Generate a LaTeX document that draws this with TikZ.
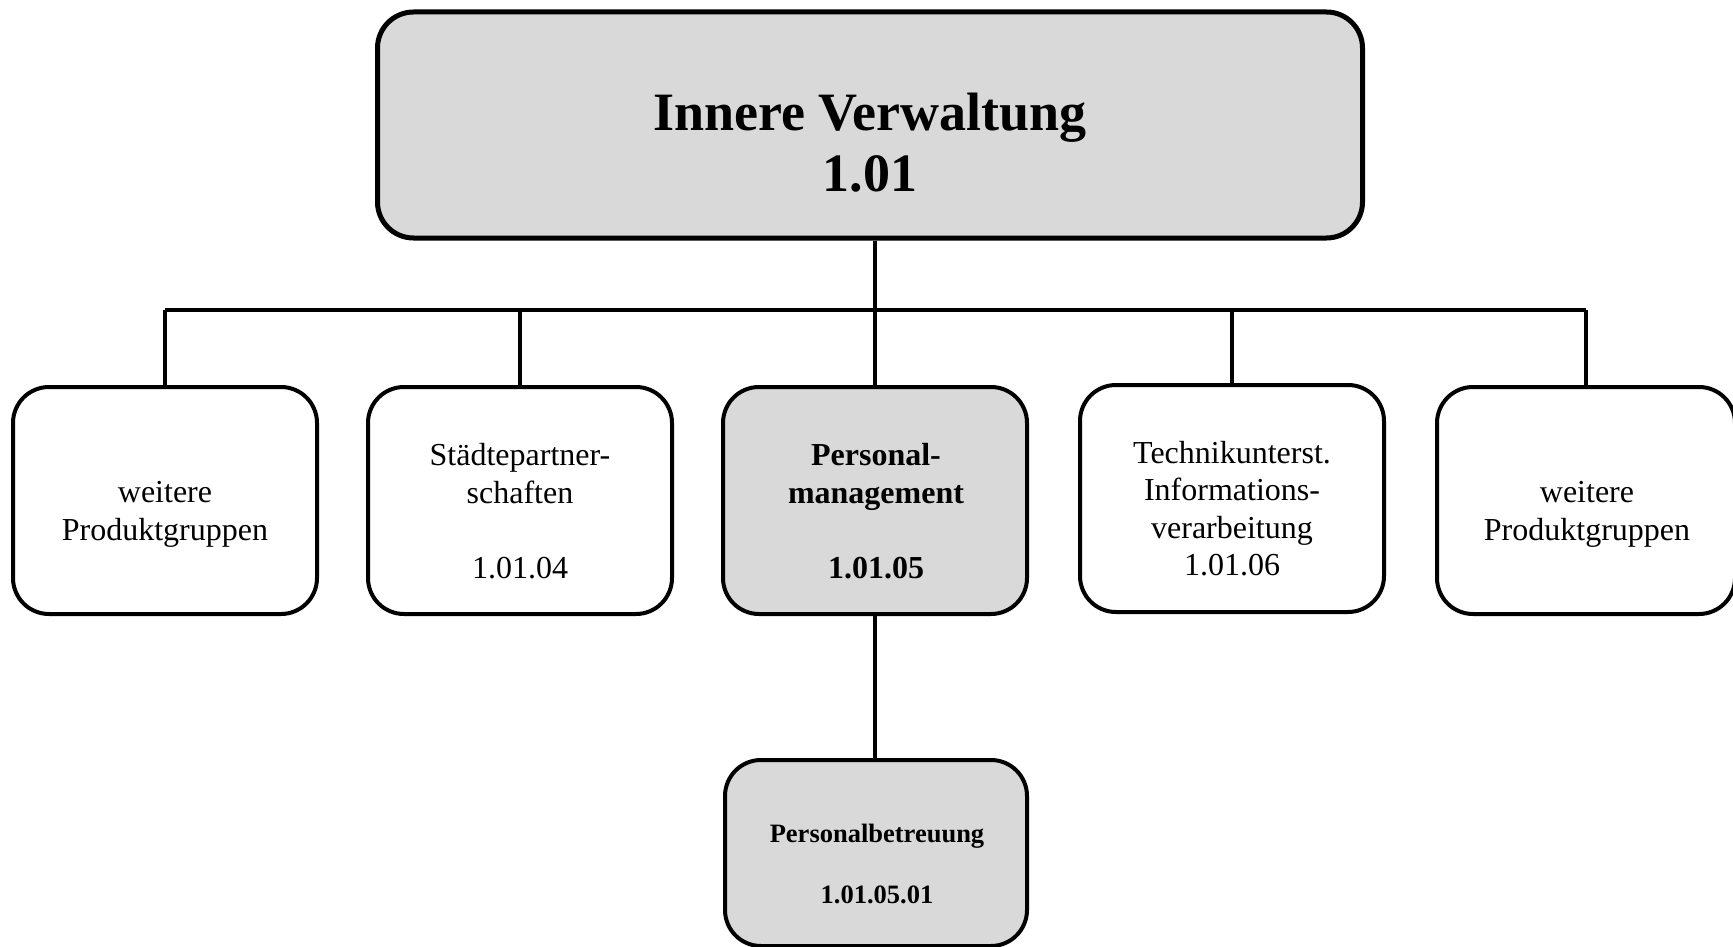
\documentclass[tikz,border=0pt]{standalone}
\usepackage{fontspec}
\setmainfont{Liberation Serif}
\usepackage{tikz}
\definecolor{boxgray}{HTML}{D9D9D9}

\begin{document}
\begin{tikzpicture}[x=1pt,y=-1pt,
  grpbox/.style={draw=black, line width=4pt, rounded corners=36pt, minimum width=304pt, minimum height=227pt, inner sep=0pt},
  grptext/.style={anchor=base, align=center, inner sep=0pt, font=\fontsize{32}{37.5}\selectfont},
  grpbold/.style={grptext, font=\fontsize{32}{37.5}\selectfont\bfseries},
  link/.style={line width=3.3pt}]
\useasboundingbox (0,0) rectangle (1733,947);
\node[grpbox, fill=boxgray, line width=5pt, minimum width=985pt, minimum height=226pt] (iv) at (870,125) {};
\node[grptext, font=\fontsize{54}{62}\selectfont\bfseries] (ivt) at (870,192) {Innere Verwaltung\\1.01};
\node[grpbox] (pg1) at (165,500.5) {};
\node[grptext] (pg1t) at (165,540) {weitere\\Produktgruppen};
\node[grpbox] (pg2) at (520,500.5) {};
\node[grptext] (pg2t) at (520,578) {Städtepartner-\\schaften\\[37.5pt]1.01.04};
\node[grpbox, fill=boxgray] (pm) at (875,500.5) {};
\node[grpbold] (pmt) at (876,578) {Personal-\\management\\[37.5pt]1.01.05};
\node[grpbox] (pg4) at (1232,498.5) {};
\node[grptext] (pg4t) at (1232,575.5) {Technikunterst.\\Informations-\\verarbeitung\\1.01.06};
\node[grpbox, minimum width=298pt] (pg5) at (1586,500.5) {};
\node[grptext] (pg5t) at (1587,540) {weitere\\Produktgruppen};
\node[grpbox, fill=boxgray, minimum width=302pt, minimum height=186pt] (pb) at (876,853) {};
\node[grptext, font=\fontsize{26.5}{30.5}\selectfont\bfseries] (pbt) at (877,903) {Personalbetreuung\\[30.5pt]1.01.05.01};
\coordinate (bus) at (0,310);
\draw[link] (pm.north |- iv.south) -- (pm.north |- bus);
\draw[link] (pg1.north |- bus) -- (pg5.north |- bus);
\foreach \g in {pg1,pg2,pm,pg4,pg5}
  \draw[link] (\g.north) -- (\g.north |- bus);
\draw[link] (pm.south) -- (pm.south |- pb.north);
\end{tikzpicture}
\end{document}
